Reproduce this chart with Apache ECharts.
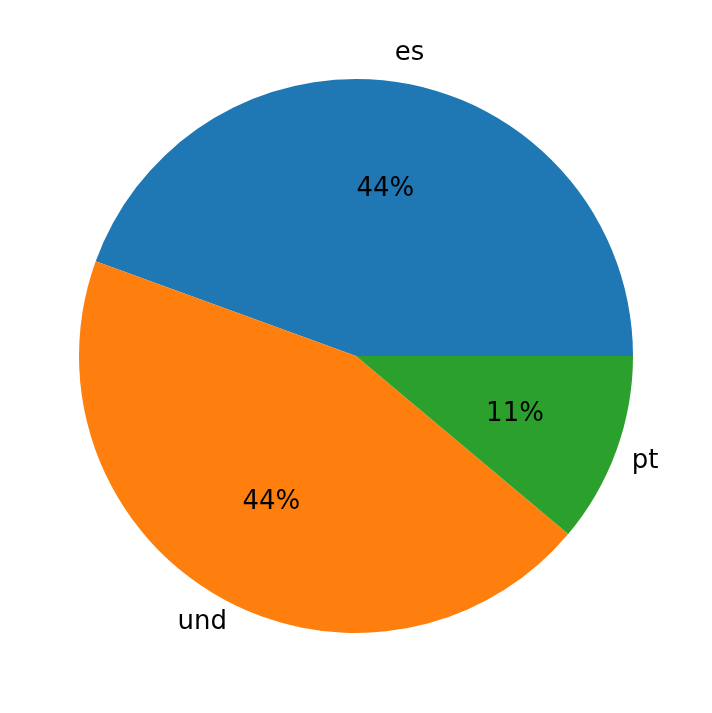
<!DOCTYPE html>
<html>
<head>
<meta charset="utf-8">
<script src="https://cdn.jsdelivr.net/npm/echarts@6/dist/echarts.min.js"></script>
<style>html,body{margin:0;padding:0;background:#fff}#chart{width:712px;height:713px}</style>
</head>
<body>
<div id="chart"></div>
<script>
// language counts
var labels = ["es", "und", "pt"];
var counts = [4, 4, 1];
var colors = ["#1f77b4", "#ff7f0e", "#2ca02c"];
var nameAlign = ["left", "right", "left"];

var R = 277, cx = 356, cy = 356;
var font = "DejaVu Sans";

function mk(extra) {
  return labels.map(function (n, i) {
    var d = { name: n, value: counts[i] };
    for (var k in extra) d[k] = extra[k](i);
    return d;
  });
}

var chart = echarts.init(document.getElementById("chart"));
var base = { type: "pie", center: [cx, cy], startAngle: 0, clockwise: false, animation: false, silent: true };
chart.setOption({
  color: colors,
  series: [
    Object.assign({}, base, {
      radius: [0, R],
      label: { show: false }, labelLine: { show: false },
      data: mk({ itemStyle: function (i) { return { color: colors[i] }; } })
    }),
    Object.assign({}, base, {
      radius: [0, R * 1.2],
      itemStyle: { color: "transparent" },
      label: { show: true, position: "inside", fontFamily: font, fontSize: 26, color: "#000",
        formatter: function (p) { return Math.round(p.percent) + "%"; } },
      labelLine: { show: false },
      data: mk({})
    }),
    Object.assign({}, base, {
      radius: [0, R * 2.2],
      itemStyle: { color: "transparent" },
      label: { show: true, position: "inside", fontFamily: font, fontSize: 26, color: "#000",
        formatter: "{b}" },
      labelLine: { show: false },
      data: mk({ label: function (i) { return { align: nameAlign[i] }; } })
    })
  ]
});
</script>
</body>
</html>
